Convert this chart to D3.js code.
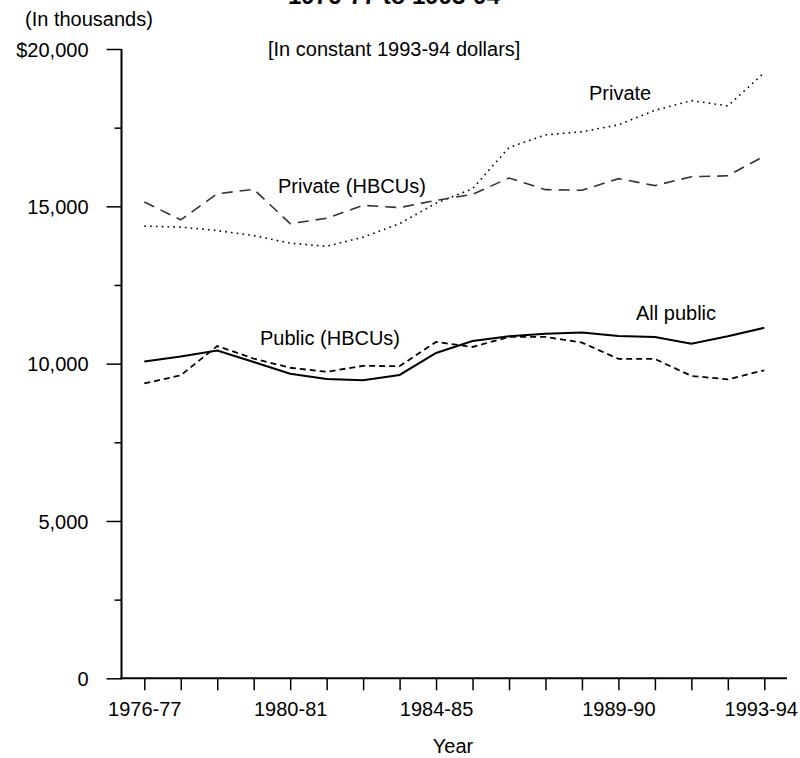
<!DOCTYPE html>
<html>
<head>
<meta charset="utf-8">
<script src="https://cdn.jsdelivr.net/npm/d3@7"></script>
<style>
  body { margin: 0; background: #fff; }
  svg { display: block; font-family: "Liberation Sans", Arial, sans-serif; }
  .axis text { font-size: 20px; fill: #000; }
  .axis line { stroke: #000; stroke-width: 1.5; }
  .axis path { display: none; }
</style>
</head>
<body>
<div id="chart"></div>
<script>
/* Data */

var years = ["1976-77", "1977-78", "1978-79", "1979-80", "1980-81", "1981-82", "1982-83", "1983-84", "1984-85",
             "1985-86", "1986-87", "1987-88", "1988-89", "1989-90", "1990-91", "1991-92", "1992-93", "1993-94"];
var labeledYears = ["1976-77", "1980-81", "1984-85", "1989-90", "1993-94"];

var allPublic   = [10070, 10230, 10420, 10050, 9680, 9510, 9470, 9640, 10340, 10720, 10870, 10950, 10990, 10880, 10850, 10630, 10870, 11140];
var publicHBCU  = [9370, 9630, 10560, 10160, 9870, 9740, 9930, 9920, 10690, 10530, 10850, 10850, 10670, 10150, 10150, 9610, 9500, 9790];
var privateAll  = [14370, 14340, 14230, 14070, 13830, 13730, 14020, 14450, 15100, 15560, 16870, 17270, 17370, 17590, 18050, 18360, 18190, 19250];
var privateHBCU = [15140, 14570, 15400, 15540, 14450, 14620, 15030, 14960, 15190, 15380, 15900, 15530, 15510, 15880, 15660, 15940, 15970, 16600];

var majorTicks = [0, 5000, 10000, 15000, 20000];
var minorTicks = [2500, 7500, 12500, 17500];

var width = 800,
    height = 758;

var svg = d3.select("#chart").append("svg")
    .attr("width", width)
    .attr("height", height);

var x = d3.scalePoint().domain(years).range([144.3, 764.3]);
var y = d3.scaleLinear().domain([0, 20000]).range([678.3, 49]);

var axisLeftX = 121.5;

// series, drawn through the scales
var series = [
    { values: privateAll,  dash: "1.6,4.2", color: "#000", w: 1.6 },
    { values: privateHBCU, dash: "11,7",    color: "#333", w: 1.6 },
    { values: publicHBCU,  dash: "6,4",     color: "#000", w: 1.8 },
    { values: allPublic,   dash: null,      color: "#000", w: 2 }
];

var line = d3.line()
    .x(function(d, i) { return x(years[i]); })
    .y(function(d) { return y(d); });

svg.append("g").selectAll("path")
    .data(series)
    .enter().append("path")
    .attr("d", function(d) { return line(d.values); })
    .attr("fill", "none")
    .attr("stroke", function(d) { return d.color; })
    .attr("stroke-width", function(d) { return d.w; })
    .attr("stroke-dasharray", function(d) { return d.dash; });

/* Axes */

svg.append("g").attr("class", "axis")
    .attr("transform", "translate(" + axisLeftX + ",0)")
    .call(d3.axisLeft(y).tickValues(majorTicks).tickSize(15).tickSizeOuter(0).tickPadding(18)
        .tickFormat(function(d) { return d == 20000 ? "$20,000" : d3.format(",")(d); }))
    .selectAll("text").attr("dy", "0.36em");

svg.append("g").attr("class", "axis")
    .attr("transform", "translate(" + axisLeftX + ",0)")
    .call(d3.axisLeft(y).tickValues(minorTicks).tickSize(7).tickSizeOuter(0).tickFormat(""));

var xAxis = svg.append("g").attr("class", "axis")
    .attr("transform", "translate(0," + y(0) + ")")
    .call(d3.axisBottom(x).tickSize(12).tickSizeOuter(0).tickPadding(12)
        .tickFormat(function(d) { return labeledYears.indexOf(d) >= 0 ? d : ""; }));
// last label sits a bit left of its tick so it stays on the page
xAxis.selectAll("text").filter(function(d) { return d == "1993-94"; }).attr("dx", -3.5);

// axis lines
svg.append("line")
    .attr("x1", axisLeftX).attr("x2", axisLeftX)
    .attr("y1", y(20000)).attr("y2", y(0) + 1)
    .attr("stroke", "#000").attr("stroke-width", 2);
svg.append("line")
    .attr("x1", axisLeftX - 1).attr("x2", 787)
    .attr("y1", y(0)).attr("y2", y(0))
    .attr("stroke", "#000").attr("stroke-width", 2);

/* Texts */

function label(txt, tx, ty, opts) {
    opts = opts || {};
    svg.append("text")
        .attr("x", tx).attr("y", ty)
        .attr("text-anchor", opts.anchor || "start")
        .attr("font-size", opts.size || 20)
        .attr("font-weight", opts.weight || "normal")
        .text(txt);
}

label("1976-77 to 1993-94", 394, 4, { anchor: "middle", size: 24, weight: "bold" });
label("(In thousands)", 25, 26);
label("[In constant 1993-94 dollars]", 268, 56);
label("Private", 589, 100);
label("Private (HBCUs)", 278, 193);
label("All public", 636, 320);
label("Public (HBCUs)", 260, 345);
label("Year", 453, 753, { anchor: "middle" });
</script>
</body>
</html>
